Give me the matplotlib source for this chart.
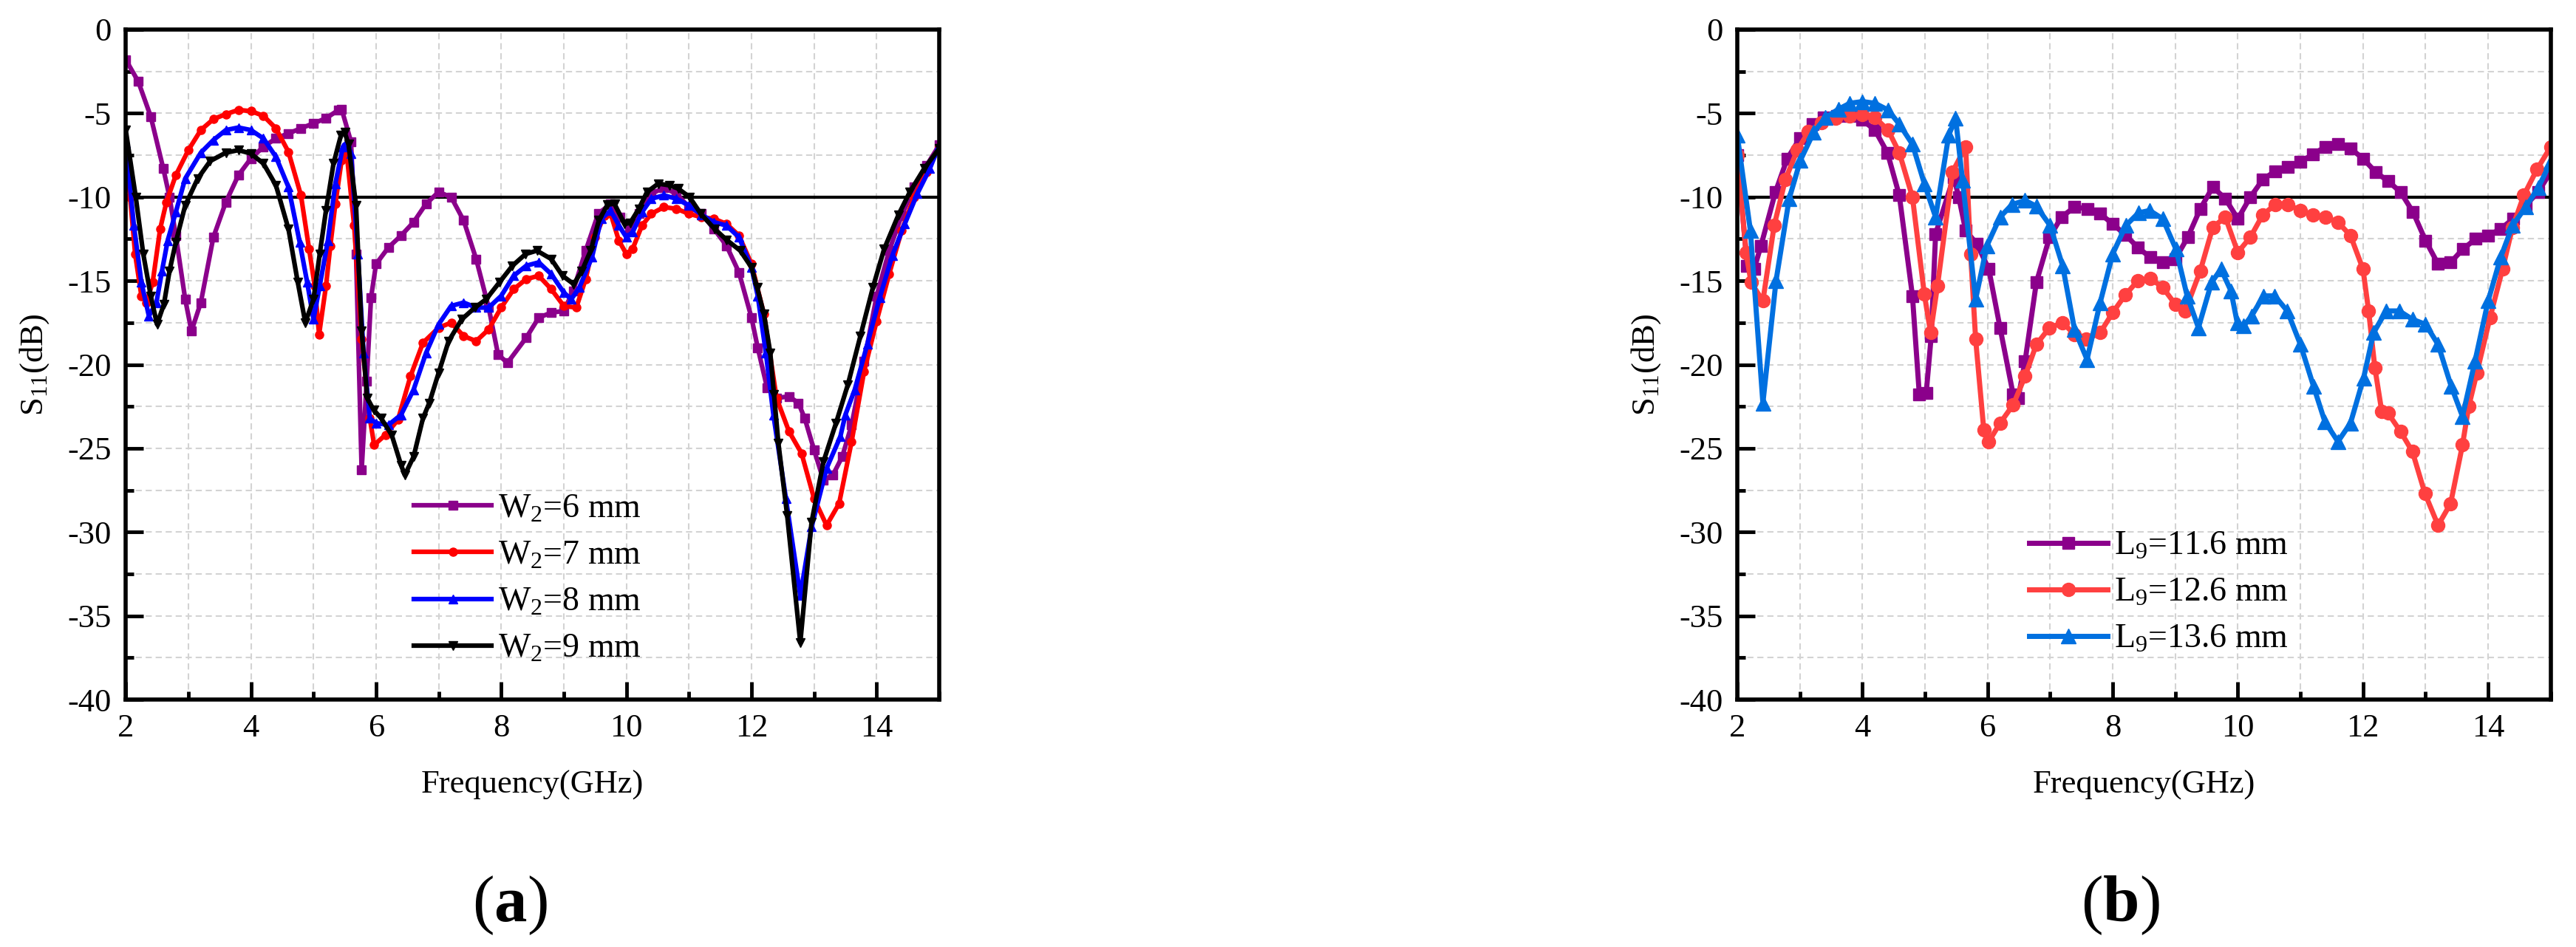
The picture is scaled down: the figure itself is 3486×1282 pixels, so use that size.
import numpy as np
import matplotlib
matplotlib.use("Agg")
import matplotlib.pyplot as plt
from matplotlib.ticker import MultipleLocator

plt.rcParams['font.family'] = ['Liberation Serif', 'DejaVu Serif']
plt.rcParams['mathtext.fontset'] = 'custom'
plt.rcParams['mathtext.rm'] = 'Liberation Serif'
plt.rcParams['mathtext.it'] = 'Liberation Serif:italic'
plt.rcParams['mathtext.bf'] = 'Liberation Serif:bold'
plt.rcParams['axes.unicode_minus'] = False

# ---- panel (a): W2 sweep ----
f_w6 = [2.0, 2.2, 2.4, 2.6, 2.7, 2.8, 2.95, 3.05, 3.2, 3.4, 3.6, 3.8, 4.0, 4.2, 4.4, 4.6, 4.8, 5.0,
        5.2, 5.4, 5.45, 5.6, 5.68, 5.77, 5.85, 5.92, 6.0, 6.2, 6.4, 6.6, 6.8, 7.0, 7.2, 7.4, 7.6,
        7.8, 7.95, 8.1, 8.4, 8.6, 8.8, 9.0, 9.15, 9.35, 9.55, 9.75, 9.9, 10.05, 10.2, 10.4, 10.6,
        10.8, 11.0, 11.2, 11.4, 11.6, 11.8, 12.0, 12.1, 12.25, 12.4, 12.6, 12.75, 12.85, 13.0,
        13.15, 13.3, 13.45, 13.6, 13.8, 14.0, 14.2, 14.4, 14.6, 14.8, 15.0]
s_w6 = [-1.8, -3.1, -5.2, -8.3, -10.0, -12.3, -16.1, -18.0, -16.3, -12.4, -10.3, -8.7, -7.7, -7.0,
        -6.5, -6.2, -5.9, -5.6, -5.3, -4.8, -4.75, -6.7, -13.4, -26.3, -21.0, -16.0, -14.0, -13.0,
        -12.3, -11.5, -10.4, -9.7, -10.0, -11.4, -13.7, -16.6, -19.4, -19.9, -18.4, -17.2, -16.9,
        -16.8, -15.6, -13.2, -11.0, -10.4, -11.2, -12.0, -11.0, -9.8, -9.45, -9.8, -10.6, -11.0,
        -11.9, -12.9, -14.5, -17.2, -19.0, -21.4, -22.0, -21.9, -22.3, -23.2, -25.1, -26.9, -26.6,
        -25.5, -23.6, -19.8, -15.9, -13.2, -11.1, -9.4, -8.1, -6.9]

f_w7 = [2.0, 2.07, 2.15, 2.25, 2.33, 2.43, 2.55, 2.65, 2.8, 3.0, 3.2, 3.4, 3.6, 3.8, 4.0, 4.2, 4.4,
        4.6, 4.8, 4.93, 5.02, 5.09, 5.2, 5.27, 5.35, 5.45, 5.52, 5.65, 5.77, 5.9, 5.97, 6.15, 6.35,
        6.55, 6.75, 7.0, 7.2, 7.4, 7.6, 7.8, 8.0, 8.2, 8.4, 8.6, 8.8, 9.0, 9.2, 9.35, 9.5, 9.65,
        9.75, 9.88, 10.0, 10.1, 10.25, 10.4, 10.6, 10.8, 11.0, 11.2, 11.4, 11.6, 11.8, 12.0, 12.2,
        12.4, 12.6, 12.8, 13.0, 13.2, 13.4, 13.6, 13.8, 14.0, 14.2, 14.4, 14.6, 14.8, 15.0]
s_w7 = [-7.6, -10.0, -13.4, -15.9, -16.3, -15.1, -11.9, -10.3, -8.7, -7.2, -6.0, -5.35, -5.05, -4.8,
        -4.87, -5.15, -5.9, -7.3, -9.9, -13.1, -15.3, -18.2, -15.3, -12.9, -10.4, -7.8, -7.0, -11.7,
        -18.5, -23.2, -24.8, -24.2, -23.3, -20.7, -18.7, -17.8, -17.5, -18.3, -18.6, -17.9, -16.6,
        -15.5, -14.9, -14.7, -15.5, -16.5, -16.6, -14.9, -12.4, -11.1, -11.0, -12.6, -13.4, -13.1,
        -11.7, -11.0, -10.6, -10.7, -11.0, -11.2, -11.3, -11.6, -12.3, -14.0, -17.0, -22.0, -24.0,
        -25.3, -28.0, -29.6, -28.3, -24.6, -20.4, -17.4, -14.6, -12.0, -10.0, -8.5, -7.0]

f_w8 = [2.0, 2.13, 2.25, 2.37, 2.49, 2.58, 2.67, 2.8, 2.95, 3.2, 3.4, 3.6, 3.8, 4.0, 4.2, 4.4, 4.6,
        4.78, 4.9, 5.0, 5.1, 5.23, 5.35, 5.47, 5.53, 5.6, 5.71, 5.8, 5.9, 6.0, 6.2, 6.4, 6.6, 6.8,
        7.0, 7.2, 7.4, 7.6, 7.8, 8.0, 8.2, 8.4, 8.6, 8.8, 9.0, 9.12, 9.25, 9.45, 9.6, 9.75, 9.88,
        10.0, 10.1, 10.25, 10.4, 10.6, 10.8, 11.0, 11.2, 11.4, 11.6, 11.8, 12.0, 12.1, 12.23, 12.35,
        12.55, 12.78, 12.96, 13.2, 13.42, 13.5, 13.65, 13.85, 14.05, 14.25, 14.45, 14.65, 14.85, 15.0]
s_w8 = [-6.8, -11.7, -15.1, -17.1, -16.3, -14.4, -12.6, -10.9, -8.9, -7.35, -6.6, -6.0, -5.85, -6.0,
        -6.5, -7.6, -9.4, -12.7, -15.1, -17.3, -15.3, -12.6, -9.2, -7.0, -6.75, -7.4, -13.4, -19.3,
        -23.2, -23.5, -23.6, -23.0, -21.5, -19.3, -17.6, -16.5, -16.3, -16.6, -16.6, -15.9, -14.7,
        -14.1, -13.9, -14.6, -15.7, -16.1, -15.4, -13.6, -11.3, -10.8, -11.7, -12.4, -12.1, -10.9,
        -10.1, -9.9, -10.1, -10.5, -11.05, -11.5, -11.7, -12.4, -14.2, -15.9, -19.3, -23.0, -28.0,
        -33.8, -29.7, -26.2, -24.3, -23.0, -21.5, -18.8, -16.0, -13.5, -11.6, -9.8, -8.3, -6.9]

f_w9 = [2.0, 2.16, 2.28, 2.4, 2.5, 2.61, 2.7, 2.8, 2.95, 3.15, 3.35, 3.6, 3.8, 4.0, 4.2, 4.4, 4.6,
        4.75, 4.87, 5.0, 5.1, 5.2, 5.32, 5.44, 5.5, 5.56, 5.68, 5.77, 5.86, 5.96, 6.08, 6.25, 6.4,
        6.46, 6.6, 6.75, 6.85, 7.0, 7.16, 7.37, 7.58, 7.76, 7.97, 8.18, 8.39, 8.57, 8.8, 8.98, 9.16,
        9.29, 9.43, 9.56, 9.7, 9.81, 9.97, 10.06, 10.2, 10.33, 10.51, 10.69, 10.83, 11.01, 11.19,
        11.41, 11.6, 11.82, 12.0, 12.09, 12.2, 12.3, 12.36, 12.43, 12.57, 12.78, 12.96, 13.15, 13.35,
        13.54, 13.74, 13.94, 14.12, 14.35, 14.53, 14.76, 15.0]
s_w9 = [-6.0, -10.0, -13.4, -15.9, -17.6, -16.4, -14.4, -12.7, -10.5, -8.9, -7.85, -7.35, -7.2, -7.4,
        -8.0, -9.3, -11.9, -15.1, -17.5, -16.1, -13.4, -10.8, -8.0, -6.3, -6.15, -6.85, -10.5, -18.0,
        -22.0, -22.7, -23.2, -24.2, -26.0, -26.6, -25.5, -23.2, -22.3, -20.5, -18.6, -17.3, -16.6,
        -16.1, -15.1, -14.1, -13.4, -13.2, -13.7, -14.7, -15.2, -14.4, -13.2, -11.4, -10.45, -10.4,
        -11.6, -11.55, -10.7, -9.7, -9.2, -9.3, -9.5, -10.0, -11.0, -11.9, -12.55, -13.2, -14.2,
        -15.4, -17.0, -19.3, -21.8, -24.7, -29.0, -36.6, -29.4, -25.8, -23.5, -21.2, -18.3, -15.4,
        -13.1, -11.05, -9.7, -8.3, -7.1]

# ---- panel (b): L9 sweep ----
f_l116 = [2.0, 2.16, 2.27, 2.38, 2.61, 2.8, 3.0, 3.2, 3.38, 3.59, 3.8, 4.0, 4.2, 4.4, 4.59, 4.8, 4.91,
          5.02, 5.1, 5.17, 5.46, 5.54, 5.65, 5.83, 6.02, 6.2, 6.41, 6.49, 6.6, 6.78, 6.99, 7.18, 7.39,
          7.6, 7.8, 8.0, 8.2, 8.4, 8.6, 8.8, 9.0, 9.2, 9.4, 9.6, 9.8, 10.0, 10.2, 10.4, 10.6, 10.8,
          11.0, 11.2, 11.4, 11.6, 11.8, 12.0, 12.2, 12.4, 12.6, 12.8, 13.0, 13.2, 13.4, 13.6, 13.8,
          14.0, 14.2, 14.4, 14.6, 14.8, 15.0]
s_l116 = [-7.5, -14.1, -14.3, -12.9, -9.7, -7.7, -6.5, -5.65, -5.25, -5.15, -5.15, -5.4, -6.0, -7.35,
          -9.9, -15.9, -21.8, -21.7, -18.3, -12.2, -8.8, -10.0, -12.0, -12.8, -14.3, -17.8, -21.8,
          -22.0, -19.8, -15.1, -12.4, -11.2, -10.6, -10.7, -11.0, -11.6, -12.25, -13.0, -13.6, -13.9,
          -13.7, -12.4, -10.7, -9.4, -10.1, -11.3, -10.0, -8.95, -8.45, -8.2, -7.9, -7.45, -7.0,
          -6.85, -7.1, -7.7, -8.5, -9.05, -9.7, -10.9, -12.6, -14.0, -13.9, -13.1, -12.5, -12.3,
          -11.9, -11.3, -10.5, -9.7, -8.5]

f_l126 = [2.0, 2.14, 2.22, 2.41, 2.59, 2.77, 2.96, 3.14, 3.35, 3.57, 3.8, 4.0, 4.2, 4.41, 4.59, 4.8,
          4.99, 5.09, 5.2, 5.44, 5.65, 5.73, 5.81, 5.94, 6.02, 6.2, 6.41, 6.6, 6.78, 6.99, 7.2, 7.39,
          7.58, 7.8, 8.0, 8.2, 8.4, 8.6, 8.8, 9.0, 9.16, 9.4, 9.6, 9.8, 10.0, 10.2, 10.4, 10.6, 10.8,
          11.0, 11.2, 11.4, 11.6, 11.8, 12.0, 12.09, 12.19, 12.3, 12.4, 12.6, 12.79, 12.99, 13.2,
          13.4, 13.59, 13.69, 13.82, 14.03, 14.23, 14.39, 14.57, 14.78, 15.0]
s_l126 = [-7.5, -13.3, -15.1, -16.2, -11.7, -8.95, -7.2, -6.1, -5.55, -5.3, -5.15, -5.05, -5.25, -6.0,
          -7.35, -10.0, -15.8, -18.1, -15.3, -8.5, -7.0, -13.4, -18.5, -23.9, -24.6, -23.5, -22.4,
          -20.7, -18.8, -17.8, -17.5, -18.2, -18.5, -18.1, -16.9, -15.85, -15.0, -14.85, -15.4,
          -16.4, -16.8, -14.4, -11.8, -11.2, -13.3, -12.4, -11.05, -10.45, -10.45, -10.8, -11.05,
          -11.2, -11.5, -12.3, -14.3, -16.8, -20.2, -22.8, -22.9, -24.0, -25.2, -27.7, -29.6, -28.3,
          -24.8, -22.5, -20.5, -17.2, -14.3, -11.8, -9.9, -8.35, -7.0]

f_l136 = [2.0, 2.21, 2.41, 2.62, 2.83, 3.01, 3.22, 3.41, 3.62, 3.8, 4.0, 4.2, 4.41, 4.59, 4.8, 4.99,
          5.17, 5.38, 5.49, 5.6, 5.81, 5.99, 6.2, 6.39, 6.6, 6.78, 7.0, 7.2, 7.39, 7.59, 7.8, 8.0,
          8.21, 8.41, 8.59, 8.8, 9.01, 9.19, 9.37, 9.58, 9.73, 9.89, 9.99, 10.09, 10.22, 10.41,
          10.59, 10.79, 11.0, 11.21, 11.39, 11.6, 11.8, 12.01, 12.17, 12.37, 12.58, 12.79, 13.0,
          13.2, 13.41, 13.59, 13.79, 14.0, 14.2, 14.39, 14.6, 14.8, 15.0]
s_l136 = [-6.3, -12.0, -22.3, -15.0, -10.1, -7.8, -6.15, -5.25, -4.75, -4.4, -4.3, -4.4, -4.8, -5.65,
          -6.85, -9.2, -11.2, -6.3, -5.3, -9.0, -16.1, -12.9, -11.2, -10.45, -10.2, -10.55, -11.7,
          -14.1, -17.9, -19.7, -16.3, -13.4, -11.7, -10.95, -10.8, -11.3, -13.1, -15.9, -17.8, -15.1,
          -14.3, -15.6, -17.5, -17.7, -17.1, -15.9, -15.9, -16.8, -18.8, -21.3, -23.4, -24.6, -23.5,
          -20.8, -18.1, -16.8, -16.8, -17.3, -17.6, -18.8, -21.3, -23.1, -19.8, -16.2, -13.6, -11.7,
          -10.6, -9.45, -7.9]

purple = '#8B008B'

fig = plt.figure(figsize=(34.87, 12.82), dpi=100)
ax_a = fig.add_axes([0.0488, 0.2613, 0.3157, 0.7075])
ax_b = fig.add_axes([0.6742, 0.2613, 0.3157, 0.7075])

ax_a.plot(f_w6, s_w6, color=purple, marker='s', ms=8, lw=4.5, label='W$_{2}$=6 mm')
ax_a.plot(f_w7, s_w7, color='#FF0000', marker='o', ms=8, lw=4.5, label='W$_{2}$=7 mm')
ax_a.plot(f_w8, s_w8, color='#0000FF', marker='^', ms=9, lw=4.5, label='W$_{2}$=8 mm')
ax_a.plot(f_w9, s_w9, color='black', marker='v', ms=9, lw=4.5, label='W$_{2}$=9 mm')

ax_b.plot(f_l116, s_l116, color=purple, marker='s', ms=12, lw=5, label='L$_{9}$=11.6 mm')
ax_b.plot(f_l126, s_l126, color='#FF4040', marker='o', ms=13, lw=5, label='L$_{9}$=12.6 mm')
ax_b.plot(f_l136, s_l136, color='#0070E0', marker='^', ms=15, lw=5, label='L$_{9}$=13.6 mm')

for ax in (ax_a, ax_b):
    ax.axhline(-10, color='black', lw=3, zorder=1.5)
    ax.set_xlim(2, 15)
    ax.set_ylim(-40, 0)
    ax.xaxis.set_major_locator(MultipleLocator(2))
    ax.xaxis.set_minor_locator(MultipleLocator(1))
    ax.yaxis.set_major_locator(MultipleLocator(5))
    ax.yaxis.set_minor_locator(MultipleLocator(2.5))
    ax.grid(True, which='both', color='#D3D3D3', linestyle=(0, (4, 2.5)), lw=1.5)
    ax.set_axisbelow(True)
    ax.tick_params(which='major', direction='in', length=17, width=3.5, labelsize=32, pad=14)
    ax.tick_params(which='minor', direction='in', length=8, width=3.5)
    for sp in ax.spines.values():
        sp.set_linewidth(4)
    ax.set_xlabel('Frequency(GHz)', fontsize=32)
    ax.set_ylabel('S$_{11}$(dB)', fontsize=32)
    ax.xaxis.set_label_coords(0.5, -0.105)
    ax.yaxis.set_label_coords(-0.092, 0.5)

ax_a.legend(loc='center left', bbox_to_anchor=(0.354, 0.180), frameon=False, fontsize=33,
            handlelength=2.3, handletextpad=0.2, labelspacing=0.45, borderpad=0, borderaxespad=0)
ax_b.legend(loc='center left', bbox_to_anchor=(0.359, 0.159), frameon=False, fontsize=33,
            handlelength=2.3, handletextpad=0.2, labelspacing=0.45, borderpad=0, borderaxespad=0)

fig.text(0.1979, 0.027, r'($\mathbf{a}$)', ha='center', va='baseline', fontsize=64)
fig.text(0.8228, 0.027, r'($\mathbf{b}$)', ha='center', va='baseline', fontsize=64)

fig.savefig('out.png', dpi=100)
